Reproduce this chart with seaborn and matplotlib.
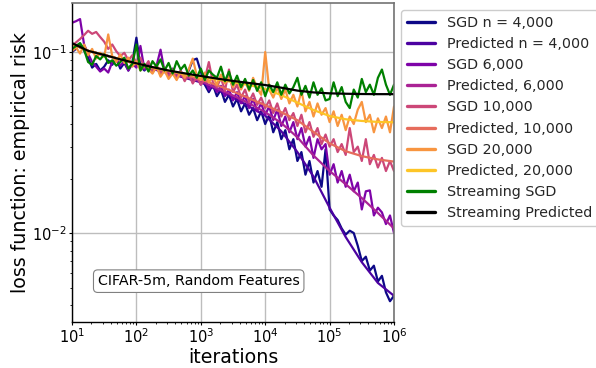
import numpy as np
import pandas as pd
import matplotlib
matplotlib.use("Agg")
import matplotlib.pyplot as plt
import seaborn as sns

# iteration grids (log-spaced sampling of the training run)
iters_sgd = np.logspace(1, 6, 81)
iters_pred = np.logspace(1, 6, 21)

series_labels = [
    "SGD n = 4,000", "Predicted n = 4,000",
    "SGD 6,000", "Predicted, 6,000",
    "SGD 10,000", "Predicted, 10,000",
    "SGD 20,000", "Predicted, 20,000",
    "Streaming SGD", "Streaming Predicted",
]

sgd_4000 = [
    0.100, 0.104, 0.111, 0.102, 0.093, 0.082, 0.086, 0.079, 0.083, 0.090,
    0.085, 0.092, 0.081, 0.087, 0.079, 0.088, 0.120, 0.083, 0.079, 0.085,
    0.077, 0.083, 0.075, 0.081, 0.074, 0.079, 0.072, 0.077, 0.071, 0.079,
    0.090, 0.092, 0.078, 0.066, 0.060, 0.066, 0.057, 0.062, 0.053, 0.058,
    0.050, 0.055, 0.047, 0.052, 0.045, 0.049, 0.042, 0.047, 0.040, 0.045,
    0.036, 0.041, 0.033, 0.037, 0.029, 0.033, 0.025, 0.028, 0.021, 0.025,
    0.019, 0.022, 0.018, 0.029, 0.0135, 0.0125, 0.0118, 0.0106, 0.0098, 0.0103,
    0.0100, 0.0085, 0.0070, 0.0074, 0.0062, 0.0066, 0.0054, 0.0058, 0.0047, 0.0042,
    0.0045,
]
pred_4000 = [0.111, 0.1015, 0.0963, 0.0911, 0.0858, 0.0805, 0.0765, 0.0720, 0.0680,
             0.0620, 0.0560, 0.0500, 0.0445, 0.0365, 0.0280, 0.0205, 0.0138, 0.0095,
             0.0069, 0.0053, 0.0045]

sgd_6000 = [
    0.145, 0.148, 0.152, 0.110, 0.098, 0.088, 0.083, 0.078, 0.081, 0.077,
    0.088, 0.092, 0.084, 0.089, 0.079, 0.086, 0.082, 0.108, 0.080, 0.087,
    0.079, 0.084, 0.103, 0.078, 0.074, 0.081, 0.072, 0.079, 0.070, 0.076,
    0.068, 0.073, 0.066, 0.071, 0.062, 0.067, 0.060, 0.065, 0.057, 0.062,
    0.054, 0.060, 0.052, 0.057, 0.049, 0.055, 0.047, 0.052, 0.045, 0.050,
    0.042, 0.048, 0.039, 0.044, 0.036, 0.041, 0.033, 0.038, 0.030, 0.034,
    0.026, 0.033, 0.029, 0.031, 0.021, 0.024, 0.019, 0.022, 0.018, 0.021,
    0.017, 0.019, 0.0135, 0.017, 0.0172, 0.0125, 0.0138, 0.0130, 0.0112, 0.0125,
    0.0100,
]
pred_6000 = [0.111, 0.1015, 0.0963, 0.0911, 0.0860, 0.0810, 0.0770, 0.0728, 0.0690,
             0.0630, 0.0575, 0.0520, 0.0465, 0.0405, 0.0338, 0.0268, 0.0220, 0.0186,
             0.0156, 0.0129, 0.0106]

sgd_10000 = [
    0.108, 0.113, 0.118, 0.124, 0.131, 0.126, 0.129, 0.121, 0.114, 0.104,
    0.110, 0.101, 0.095, 0.099, 0.090, 0.096, 0.087, 0.093, 0.082, 0.089,
    0.078, 0.085, 0.076, 0.082, 0.073, 0.080, 0.071, 0.078, 0.069, 0.076,
    0.067, 0.073, 0.066, 0.071, 0.088, 0.068, 0.064, 0.072, 0.061, 0.080,
    0.060, 0.066, 0.056, 0.062, 0.053, 0.059, 0.051, 0.056, 0.049, 0.054,
    0.046, 0.052, 0.044, 0.049, 0.042, 0.046, 0.039, 0.045, 0.036, 0.041,
    0.034, 0.038, 0.031, 0.035, 0.030, 0.033, 0.028, 0.031, 0.027, 0.038,
    0.028, 0.030, 0.025, 0.033, 0.024, 0.027, 0.023, 0.026, 0.022, 0.025,
    0.022,
]
pred_10000 = [0.111, 0.1015, 0.0963, 0.0911, 0.0863, 0.0820, 0.0782, 0.0748, 0.0705,
              0.0655, 0.0605, 0.0555, 0.0508, 0.0465, 0.0420, 0.0362, 0.0313, 0.0283,
              0.0266, 0.0255, 0.0248]

sgd_20000 = [
    0.101, 0.106, 0.098, 0.110, 0.096, 0.104, 0.092, 0.099, 0.094, 0.125,
    0.095, 0.088, 0.097, 0.087, 0.093, 0.083, 0.089, 0.079, 0.085, 0.080,
    0.076, 0.083, 0.073, 0.079, 0.071, 0.076, 0.070, 0.078, 0.072, 0.080,
    0.092, 0.074, 0.070, 0.077, 0.068, 0.073, 0.066, 0.075, 0.067, 0.072,
    0.064, 0.070, 0.062, 0.069, 0.061, 0.072, 0.063, 0.058, 0.100, 0.062,
    0.056, 0.064, 0.055, 0.062, 0.052, 0.058, 0.050, 0.061, 0.047, 0.053,
    0.044, 0.052, 0.045, 0.049, 0.041, 0.047, 0.039, 0.045, 0.037, 0.044,
    0.040, 0.048, 0.053, 0.041, 0.045, 0.036, 0.043, 0.038, 0.044, 0.036,
    0.050,
]
pred_20000 = [0.111, 0.1015, 0.0963, 0.0911, 0.0865, 0.0823, 0.0788, 0.0758, 0.0730,
              0.0706, 0.0682, 0.0658, 0.0625, 0.0578, 0.0525, 0.0478, 0.0443, 0.0425,
              0.0416, 0.0411, 0.0409]

sgd_stream = [
    0.104, 0.108, 0.112, 0.103, 0.088, 0.085, 0.095, 0.091, 0.097, 0.087,
    0.090, 0.084, 0.088, 0.093, 0.081, 0.086, 0.110, 0.079, 0.086, 0.078,
    0.089, 0.083, 0.091, 0.079, 0.087, 0.076, 0.089, 0.080, 0.085, 0.074,
    0.079, 0.072, 0.081, 0.070, 0.079, 0.075, 0.072, 0.083, 0.069, 0.078,
    0.066, 0.074, 0.064, 0.071, 0.062, 0.070, 0.061, 0.068, 0.057, 0.066,
    0.060, 0.068, 0.058, 0.066, 0.059, 0.064, 0.072, 0.058, 0.065, 0.056,
    0.068, 0.058, 0.063, 0.054, 0.055, 0.068, 0.057, 0.064, 0.053, 0.049,
    0.062, 0.056, 0.071, 0.060, 0.066, 0.058, 0.072, 0.080, 0.066, 0.058,
    0.066,
]
pred_stream = [0.112, 0.1015, 0.0963, 0.0911, 0.0866, 0.0825, 0.0790, 0.0762, 0.0737,
               0.0713, 0.0692, 0.0674, 0.0657, 0.0635, 0.0612, 0.0598, 0.0591, 0.0588,
               0.0586, 0.0585, 0.0585]

series_values = [sgd_4000, pred_4000, sgd_6000, pred_6000, sgd_10000, pred_10000,
                 sgd_20000, pred_20000, sgd_stream, pred_stream]

frames = []
for label, vals in zip(series_labels, series_values):
    xs = iters_sgd if len(vals) == len(iters_sgd) else iters_pred
    frames.append(pd.DataFrame({"iterations": xs, "loss": vals, "series": label}))
df = pd.concat(frames, ignore_index=True)

cmap = plt.get_cmap("plasma")
palette = {lab: cmap(i / 8) for i, lab in enumerate(series_labels[:8])}
palette["Streaming SGD"] = "green"
palette["Streaming Predicted"] = "black"

sns.set_style("whitegrid")
plt.rcParams["font.family"] = ["DejaVu Sans"]

fig = plt.figure(figsize=(5.96, 3.68), dpi=100)
ax = fig.add_axes([72 / 596, 46 / 368, 322 / 596, 319 / 368])

sns.lineplot(data=df, x="iterations", y="loss", hue="series",
             hue_order=series_labels, palette=palette, linewidth=1.6,
             estimator=None, sort=False, ax=ax)

ax.set_xscale("log")
ax.set_yscale("log")
ax.set_xlim(10, 1e6)
ax.set_ylim(0.003224, 0.1865)

ax.grid(True, which="major", color="#bdbdbd", linewidth=1.0)
ax.grid(False, which="minor")
ax.tick_params(which="both", bottom=True, left=True, direction="out",
               color="black", labelcolor="black", labelsize=10.5, pad=1.5)
ax.tick_params(which="major", length=2.5, width=0.8)
ax.tick_params(which="minor", length=1.6, width=0.6)

for side in ("left", "bottom"):
    ax.spines[side].set_color("black")
    ax.spines[side].set_linewidth(1.0)
for side in ("top", "right"):
    ax.spines[side].set_color("0.45")
    ax.spines[side].set_linewidth(1.2)

ax.set_xlabel("iterations", fontsize=13.7, color="black", labelpad=1)
ax.set_ylabel("loss function: empirical risk", fontsize=13.7, color="black", labelpad=1)

ax.text(0.3935, 0.128, "CIFAR-5m, Random Features", transform=ax.transAxes,
        ha="center", va="center", fontsize=10.3, color="black",
        bbox=dict(boxstyle="round,pad=0.3", facecolor="white", edgecolor="0.5",
                  linewidth=0.8))

old = ax.get_legend()
handles = old.legend_handles
labels = [t.get_text() for t in old.get_texts()]
leg = ax.legend(handles, labels, loc="upper left", bbox_to_anchor=(1.0, 1.0),
                fontsize=10.3, labelspacing=0.5, frameon=True, framealpha=1.0,
                edgecolor="0.8", borderaxespad=0.5)
for h in leg.legend_handles:
    h.set_linewidth(2.4)

fig.savefig("out.png", dpi=100)
